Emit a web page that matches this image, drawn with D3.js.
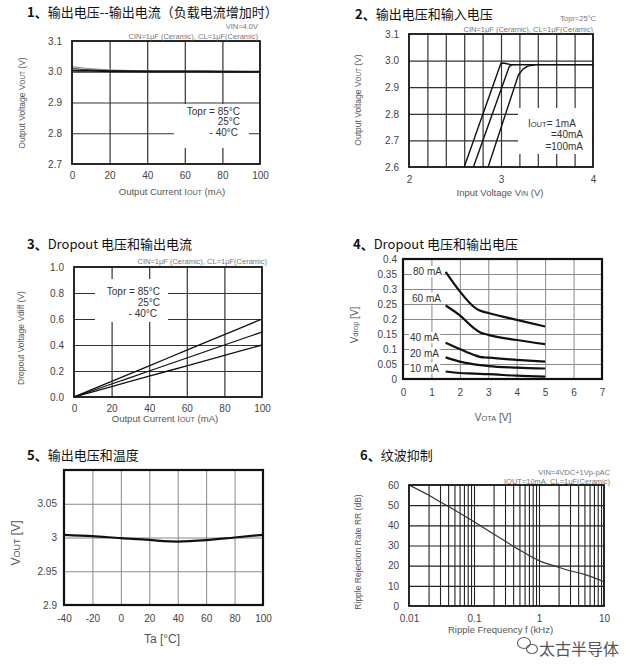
<!DOCTYPE html>
<html lang="zh">
<head>
<meta charset="utf-8">
<script src="https://cdn.jsdelivr.net/npm/d3@7"></script>
<style>
  body { margin: 0; background: #fff; }
  svg { display: block; }
</style>
</head>
<body>
<script>
// ---- data ----
// 1: output voltage vs output current
const p1Current = [0, 5, 10, 20, 40, 60, 80, 100];
const p1Temp85 = [3.017, 3.013, 3.010, 3.006, 3.003, 3.002, 3.001, 3.000];
const p1Temp25 = [3.011, 3.008, 3.006, 3.004, 3.002, 3.001, 3.001, 3.000];
const p1TempM40 = [3.004, 3.003, 3.003, 3.002, 3.001, 3.001, 3.000, 3.000];

// 2: output voltage vs input voltage
const p2Vin1 = [2.58, 2.6, 3.0, 3.04, 3.1, 4.0];
const p2Vout1 = [2.58, 2.6, 2.991, 2.990, 2.985, 2.985];
const p2Vin40 = [2.68, 2.7, 3.09, 3.12, 3.2, 4.0];
const p2Vout40 = [2.58, 2.6, 2.978, 2.984, 2.985, 2.985];
const p2Vin100 = [2.84, 2.86, 3.19, 3.24, 3.29, 3.38, 4.0];
const p2Vout100 = [2.58, 2.6, 2.947, 2.968, 2.979, 2.985, 2.985];

// 3: dropout voltage vs output current
const p3Current = [0, 20, 40, 60, 80, 100];
const p3Temp85 = [0, 0.12, 0.24, 0.36, 0.48, 0.60];
const p3Temp25 = [0, 0.10, 0.20, 0.30, 0.40, 0.50];
const p3TempM40 = [0, 0.08, 0.16, 0.24, 0.32, 0.40];

// 4: dropout voltage vs output voltage
const p4Vout = [1.5, 2, 2.5, 2.7, 3, 4, 5];
const p4Drop80 = [0.357, 0.292, 0.240, 0.228, 0.220, 0.197, 0.175];
const p4Drop60 = [0.245, 0.212, 0.169, 0.156, 0.147, 0.130, 0.116];
const p4Drop40 = [0.121, 0.100, 0.080, 0.074, 0.071, 0.064, 0.058];
const p4Drop20 = [0.072, 0.058, 0.049, 0.046, 0.043, 0.038, 0.035];
const p4Drop10 = [0.025, 0.020, 0.018, 0.017, 0.016, 0.011, 0.008];
const p4Labels = ["80 mA", "60 mA", "40 mA", "20 mA", "10 mA"];

// 5: output voltage vs temperature
const p5Temp = [-40, -20, 0, 20, 30, 40, 60, 80, 100];
const p5Vout = [3.004, 3.002, 2.999, 2.9965, 2.9945, 2.994, 2.996, 3.000, 3.004];

// 6: ripple rejection
const p6Freq = [0.01, 0.02, 0.03, 0.05, 0.1, 0.2, 0.3, 0.5, 1, 2, 3, 5, 10];
const p6RR = [60, 55, 51.7, 47.6, 41.8, 35.7, 32.2, 27.8, 22.5, 19.2, 17.5, 15.7, 12];

const sans = "'Liberation Sans', Arial, sans-serif";
const cjk = "'Noto Sans CJK SC', 'Noto Sans', sans-serif";

const svg = d3.select("body").append("svg")
  .attr("width", 640)
  .attr("height", 666);

svg.append("rect").attr("width", 640).attr("height", 666).attr("fill", "#fff");

const defs = svg.append("defs");
let clipId = 0;

// text made of [string, small] parts, for the VOUT / IOUT style labels
function richText(sel, parts, size) {
  parts.forEach(([t, small]) => {
    sel.append("tspan")
      .attr("font-size", small ? size * 0.75 : size)
      .text(t);
  });
  return sel;
}

function panel(o) {
  const g = svg.append("g");
  const [x0, x1] = o.x.range();
  const [y0, y1] = o.y.range(); // y0 bottom, y1 top

  // grid
  g.append("g")
    .attr("transform", `translate(0,${y0})`)
    .call(d3.axisBottom(o.x).tickValues(o.xGrid).tickSize(-(y0 - y1)).tickFormat(""))
    .call(a => a.select(".domain").remove())
    .selectAll("line").attr("stroke", o.gridColor).attr("stroke-width", o.gridWidth);
  g.append("g")
    .attr("transform", `translate(${x0},0)`)
    .call(d3.axisLeft(o.y).tickValues(o.yGrid).tickSize(-(x1 - x0)).tickFormat(""))
    .call(a => a.select(".domain").remove())
    .selectAll("line").attr("stroke", o.gridColor).attr("stroke-width", o.gridWidth);

  // tick labels
  g.append("g")
    .attr("transform", `translate(0,${y0})`)
    .call(d3.axisBottom(o.x).tickValues(o.xTicks).tickSize(0).tickPadding(o.xPad).tickFormat(o.xFmt))
    .call(a => a.select(".domain").remove())
    .selectAll("text").attr("font-family", sans).attr("font-size", o.tickSize).attr("fill", "#444");
  g.append("g")
    .attr("transform", `translate(${x0},0)`)
    .call(d3.axisLeft(o.y).tickValues(o.yTicks).tickSize(0).tickPadding(o.yPad).tickFormat(o.yFmt))
    .call(a => a.select(".domain").remove())
    .selectAll("text").attr("font-family", sans).attr("font-size", o.tickSize).attr("fill", "#444");

  // white-backed annotation blocks
  (o.boxes || []).forEach(b => {
    g.append("rect").attr("x", b[0]).attr("y", b[1]).attr("width", b[2]).attr("height", b[3]).attr("fill", "#fff");
  });

  // curves
  const id = "clip" + (clipId++);
  defs.append("clipPath").attr("id", id).append("rect")
    .attr("x", x0).attr("y", y1).attr("width", x1 - x0).attr("height", y0 - y1);
  const line = d3.line().x(d => o.x(d[0])).y(d => o.y(d[1])).curve(o.curve || d3.curveMonotoneX);
  o.series.forEach(s => {
    g.append("path")
      .attr("clip-path", `url(#${id})`)
      .attr("d", line(d3.zip(s.xs, s.ys)))
      .attr("fill", "none")
      .attr("stroke", s.color || "#111")
      .attr("stroke-width", s.width || 1.3)
      .attr("stroke-linejoin", "round");
  });

  // frame
  g.append("rect")
    .attr("x", x0).attr("y", y1).attr("width", x1 - x0).attr("height", y0 - y1)
    .attr("fill", "none").attr("stroke", "#111").attr("stroke-width", o.frameWidth);

  // title
  const t = svg.append("text").attr("x", o.title[0]).attr("y", o.title[1])
    .attr("font-family", cjk).attr("font-size", 13).attr("fill", "#111");
  t.append("tspan").attr("font-weight", "bold").text(o.title[2]);
  t.append("tspan").text(o.title[3]);

  return g;
}

function note(g, x, y, str, anchor, size, color) {
  return g.append("text").attr("x", x).attr("y", y)
    .attr("text-anchor", anchor || "start")
    .attr("font-family", sans).attr("font-size", size || 10)
    .attr("fill", color || "#333").text(str);
}

function yLabel(g, x, y, parts, size) {
  const t = g.append("text")
    .attr("transform", `translate(${x},${y}) rotate(-90)`)
    .attr("text-anchor", "middle").attr("font-family", sans).attr("fill", "#555");
  return richText(t, parts, size);
}

function xLabel(g, x, y, parts, size, anchor) {
  const t = g.append("text").attr("x", x).attr("y", y)
    .attr("text-anchor", anchor || "middle").attr("font-family", sans).attr("fill", "#555");
  return richText(t, parts, size);
}

const f1 = d3.format(".1f");

// ---- panel 1 ----
{
  const x = d3.scaleLinear().domain([0, 100]).range([72, 260]);
  const y = d3.scaleLinear().domain([2.7, 3.1]).range([164, 41]);
  const g = panel({
    x, y,
    xGrid: [20, 40, 60, 80], yGrid: [2.8, 2.9, 3.0],
    xTicks: [0, 20, 40, 60, 80, 100], yTicks: [2.7, 2.8, 2.9, 3.0, 3.1],
    xFmt: d3.format("d"), yFmt: f1, xPad: 8, yPad: 10, tickSize: 10,
    gridColor: "#333", gridWidth: 1.2, frameWidth: 1.8,
    boxes: [[174, 104, 75, 44]],
    title: [27, 17, "1、", "输出电压--输出电流（负载电流增加时）"],
    series: [
      { xs: p1Current, ys: p1Temp85, color: "#999", width: 1.2 },
      { xs: p1Current, ys: p1Temp25, color: "#555", width: 1.2 },
      { xs: p1Current, ys: p1TempM40, color: "#111", width: 2 }
    ]
  });
  note(g, 258, 28.5, "VIN=4.0V", "end", 7.5, "#777");
  note(g, 258, 38.5, "CIN=1μF (Ceramic), CL=1μF(Ceramic)", "end", 7.5, "#777");
  note(g, 240, 114.5, "Topr = 85°C", "end", 10);
  note(g, 240, 125, "25°C", "end", 10);
  note(g, 238, 135.5, "- 40°C", "end", 10);
  yLabel(g, 25, 103, [["Output Voltage V"], ["OUT", 1], [" (V)"]], 8.5);
  xLabel(g, 172, 195, [["Output Current I"], ["OUT", 1], [" (mA)"]], 9.5);
}

// ---- panel 2 ----
{
  const x = d3.scaleLinear().domain([2, 4]).range([409, 593]);
  const y = d3.scaleLinear().domain([2.6, 3.1]).range([167, 34]);
  const g = panel({
    x, y,
    xGrid: [2.2, 2.4, 2.6, 2.8, 3.0, 3.2, 3.4, 3.6, 3.8], yGrid: [2.7, 2.8, 2.9, 3.0],
    xTicks: [2, 3, 4], yTicks: [2.6, 2.7, 2.8, 2.9, 3.0, 3.1],
    xFmt: d3.format("d"), yFmt: f1, xPad: 9, yPad: 10, tickSize: 10,
    gridColor: "#333", gridWidth: 1.2, frameWidth: 1.8,
    boxes: [[518, 108, 74, 46]],
    title: [355, 19, "2、", "输出电压和输入电压"],
    curve: d3.curveLinear,
    series: [
      { xs: p2Vin1, ys: p2Vout1, width: 1.4 },
      { xs: p2Vin40, ys: p2Vout40, width: 1.4 },
      { xs: p2Vin100, ys: p2Vout100, width: 1.4 }
    ]
  });
  note(g, 596, 21, "Topr=25°C", "end", 7.5, "#777");
  note(g, 593, 31.5, "CIN=1μF (Ceramic), CL=1μF(Ceramic)", "end", 7.5, "#777");
  const l = g.append("text").attr("x", 528).attr("y", 126.5)
    .attr("font-family", sans).attr("fill", "#333");
  richText(l, [["I"], ["OUT", 1], ["= 1mA"]], 10);
  note(g, 583, 137.5, "=40mA", "end", 10);
  note(g, 583, 149.5, "=100mA", "end", 10);
  yLabel(g, 361, 100, [["Output Voltage V"], ["OUT", 1], [" (V)"]], 8.5);
  xLabel(g, 500, 196, [["Input Voltage V"], ["IN", 1], [" (V)"]], 9.5);
}

// ---- panel 3 ----
{
  const x = d3.scaleLinear().domain([0, 100]).range([74, 262]);
  const y = d3.scaleLinear().domain([0, 1.0]).range([397, 267]);
  const g = panel({
    x, y,
    xGrid: [20, 40, 60, 80], yGrid: [0.2, 0.4, 0.6, 0.8],
    xTicks: [0, 20, 40, 60, 80, 100], yTicks: [0, 0.2, 0.4, 0.6, 0.8, 1.0],
    xFmt: d3.format("d"), yFmt: f1, xPad: 8, yPad: 10, tickSize: 10,
    gridColor: "#333", gridWidth: 1.2, frameWidth: 1.8,
    boxes: [[95, 279, 73, 43]],
    title: [27, 249, "3、", "Dropout 电压和输出电流"],
    series: [
      { xs: p3Current, ys: p3Temp85, width: 1.3 },
      { xs: p3Current, ys: p3Temp25, width: 1.3 },
      { xs: p3Current, ys: p3TempM40, width: 1.3 }
    ]
  });
  note(g, 267, 263.5, "CIN=1μF (Ceramic), CL=1μF(Ceramic)", "end", 7.5, "#777");
  note(g, 160, 295, "Topr = 85°C", "end", 10);
  note(g, 160, 305.5, "25°C", "end", 10);
  note(g, 157, 316.5, "- 40°C", "end", 10);
  yLabel(g, 24, 338, [["Dropout Voltage Vdiff (V)"]], 8.5);
  xLabel(g, 165, 422, [["Output Current I"], ["OUT", 1], [" (mA)"]], 9.5);
}

// ---- panel 4 ----
{
  const x = d3.scaleLinear().domain([0, 7]).range([403, 602]);
  const y = d3.scaleLinear().domain([0, 0.4]).range([379, 259]);
  const g = panel({
    x, y,
    xGrid: [1, 2, 3, 4, 5, 6], yGrid: [0.05, 0.1, 0.15, 0.2, 0.25, 0.3, 0.35],
    xTicks: [0, 1, 2, 3, 4, 5, 6, 7], yTicks: [0, 0.05, 0.1, 0.15, 0.2, 0.25, 0.3, 0.35, 0.4],
    xFmt: d => String(d), yFmt: d => String(+d.toFixed(2)), xPad: 10, yPad: 6, tickSize: 10,
    gridColor: "#888", gridWidth: 1, frameWidth: 2.2,
    title: [353, 249, "4、", "Dropout 电压和输出电压"],
    series: []
  });
  const ys = [275, 301.5, 341, 356.5, 371.5];
  const xs = [413, 412, 410, 410, 410];
  p4Labels.forEach((lab, i) => {
    const t = note(g, xs[i], ys[i], lab, "start", 10, "#333");
    const bb = t.node().getBBox();
    g.insert("rect", () => t.node())
      .attr("x", bb.x - 1).attr("y", bb.y).attr("width", bb.width + 2).attr("height", bb.height)
      .attr("fill", "#fff");
  });
  const line = d3.line().x(d => x(d[0])).y(d => y(d[1])).curve(d3.curveMonotoneX);
  [p4Drop80, p4Drop60, p4Drop40, p4Drop20, p4Drop10].forEach(vals => {
    g.append("path").attr("d", line(d3.zip(p4Vout, vals)))
      .attr("fill", "none").attr("stroke", "#111").attr("stroke-width", 2.2);
  });
  yLabel(g, 358, 325, [["V"], ["drop", 1], [" [V]"]], 10);
  xLabel(g, 493, 421, [["V"], ["OTA", 1], [" [V]"]], 10);
}

// ---- panel 5 ----
{
  const x = d3.scaleLinear().domain([-40, 100]).range([64, 263]);
  const y = d3.scaleLinear().domain([2.9, 3.1]).range([605, 470]);
  const g = panel({
    x, y,
    xGrid: [-20, 0, 20, 40, 60, 80], yGrid: [2.95, 3.0, 3.05],
    xTicks: [-40, -20, 0, 20, 40, 60, 80, 100], yTicks: [2.9, 2.95, 3.0, 3.05],
    xFmt: d => String(d), yFmt: d => String(d), xPad: 10, yPad: 7, tickSize: 10,
    gridColor: "#888", gridWidth: 1, frameWidth: 2.2,
    title: [27, 460, "5、", "输出电压和温度"],
    series: [
      { xs: p5Temp, ys: p5Vout, width: 2.2 }
    ]
  });
  yLabel(g, 20, 543, [["V"], ["OUT", 1], [" [V]"]], 12);
  xLabel(g, 162, 643, [["Ta [°C]"]], 12);
}

// ---- panel 6 ----
{
  const x = d3.scaleLog().domain([0.01, 10]).range([409, 604]);
  const y = d3.scaleLinear().domain([0, 60]).range([606, 485]);
  const g = panel({
    x, y,
    xGrid: x.ticks().filter(v => v > 0.01 && v < 10), yGrid: [10, 20, 30, 40, 50],
    xTicks: [0.01, 0.1, 1, 10], yTicks: [0, 10, 20, 30, 40, 50, 60],
    xFmt: d => String(d), yFmt: d3.format("d"), xPad: 9, yPad: 10, tickSize: 10,
    gridColor: "#222", gridWidth: 1.1, frameWidth: 1.8,
    title: [360, 460, "6、", "纹波抑制"],
    series: [
      { xs: p6Freq, ys: p6RR, color: "#333", width: 1.2 }
    ]
  });
  note(g, 610, 475, "VIN=4VDC+1Vp-pAC", "end", 7.5, "#777");
  note(g, 610, 484, "IOUT=10mA, CL=1μF(Ceramic)", "end", 7.5, "#777");
  yLabel(g, 361, 552, [["Ripple Rejection Rate RR (dB)"]], 8.5);
  xLabel(g, 448, 633, [["Ripple Frequency f (kHz)"]], 9.5, "start");

  // watermark, kept just below the axis title
  const ic = g.append("g").attr("fill", "none").attr("stroke", "#666").attr("stroke-width", 1.2);
  ic.append("ellipse").attr("cx", 524).attr("cy", 643).attr("rx", 6.5).attr("ry", 5.5);
  ic.append("ellipse").attr("cx", 532).attr("cy", 649).attr("rx", 5.5).attr("ry", 4.5);
  g.append("text").attr("x", 539).attr("y", 655)
    .attr("font-family", cjk).attr("font-size", 16).attr("fill", "#555")
    .text("太古半导体");
}
</script>
</body>
</html>
